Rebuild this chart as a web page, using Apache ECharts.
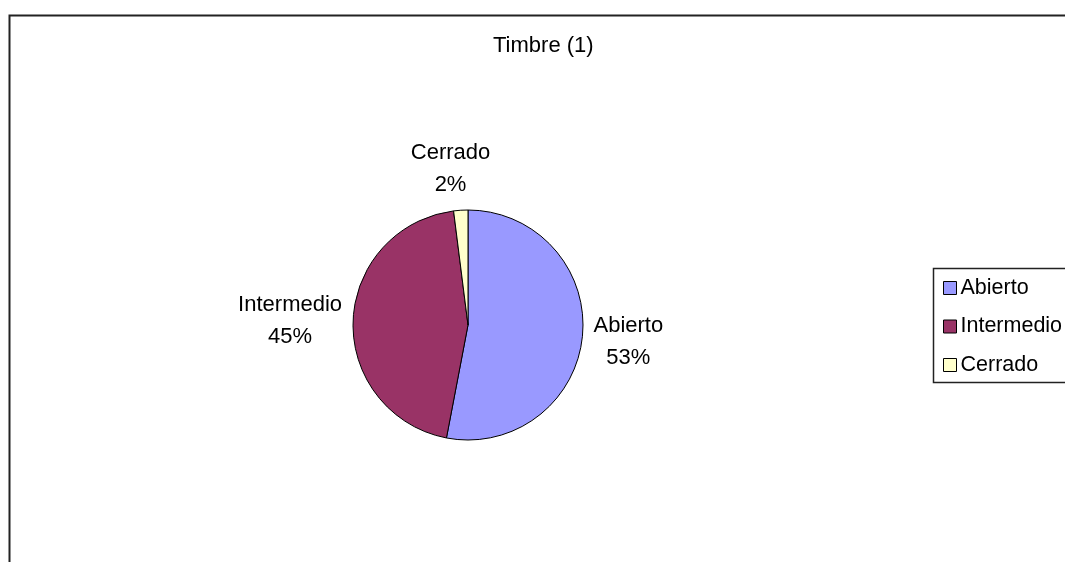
<!DOCTYPE html>
<html>
<head>
<meta charset="utf-8">
<script src="https://cdn.jsdelivr.net/npm/echarts@6/dist/echarts.min.js"></script>
<style>
html,body{margin:0;padding:0;background:#fff;}
#c{width:1065px;height:562px;}
</style>
</head>
<body>
<div id="c"></div>
<script>
const categories = ['Abierto', 'Intermedio', 'Cerrado'];
const values = [53, 45, 2];
const colors = ['#9999FF', '#993366', '#FFFFCC'];
const titleText = 'Timbre (1)';

const FONT = "'Liberation Sans', Arial, sans-serif";
const chart = echarts.init(document.getElementById('c'));
chart.setOption({
  backgroundColor: '#fff',
  animation: false,
  title: {
    text: titleText,
    left: 493,
    top: 35,
    padding: 0,
    textStyle: { fontFamily: FONT, fontSize: 22, fontWeight: 'normal', color: '#000' }
  },
  legend: {
    orient: 'vertical',
    left: 943,
    top: 276,
    padding: 0,
    itemGap: 14.5,
    itemWidth: 13,
    itemHeight: 13,
    icon: 'rect',
    itemStyle: { borderColor: '#000', borderWidth: 1 },
    textStyle: { fontFamily: FONT, fontSize: 21.5, lineHeight: 24, color: '#000', padding: [0, 0, 0, -1] },
    data: categories
  },
  graphic: [
    { type: 'rect', shape: { x: 9.5, y: 15.5, width: 1100, height: 600 }, style: { fill: 'none', stroke: '#222', lineWidth: 2 }, z: 100 },
    { type: 'rect', shape: { x: 933.5, y: 268.5, width: 200, height: 114 }, style: { fill: 'none', stroke: '#222', lineWidth: 1.5 }, z: 100 }
  ],
  series: [{
    type: 'pie',
    center: [468, 325],
    radius: 115,
    startAngle: 90,
    clockwise: true,
    avoidLabelOverlap: false,
    itemStyle: { borderColor: '#000', borderWidth: 1 },
    label: {
      show: true,
      position: 'outside',
      formatter: '{n|{b}}\n{p|{d}%}',
      rich: {
        n: { align: 'center', fontFamily: FONT, fontSize: 22, lineHeight: 32, color: '#000' },
        p: { align: 'center', fontFamily: FONT, fontSize: 22, lineHeight: 32, color: '#000' }
      }
    },
    labelLine: { show: false, length: 4, length2: 2 },
    labelLayout: function (params) {
      if (params.dataIndex === 2) {
        return { align: 'center', verticalAlign: 'bottom', dx: -3, dy: -5 };
      }
      if (params.dataIndex === 0) {
        return { dy: 6 };
      }
      return {};
    },
    data: categories.map((c, i) => ({ name: c, value: values[i], itemStyle: { color: colors[i] } }))
  }]
});
</script>
</body>
</html>
